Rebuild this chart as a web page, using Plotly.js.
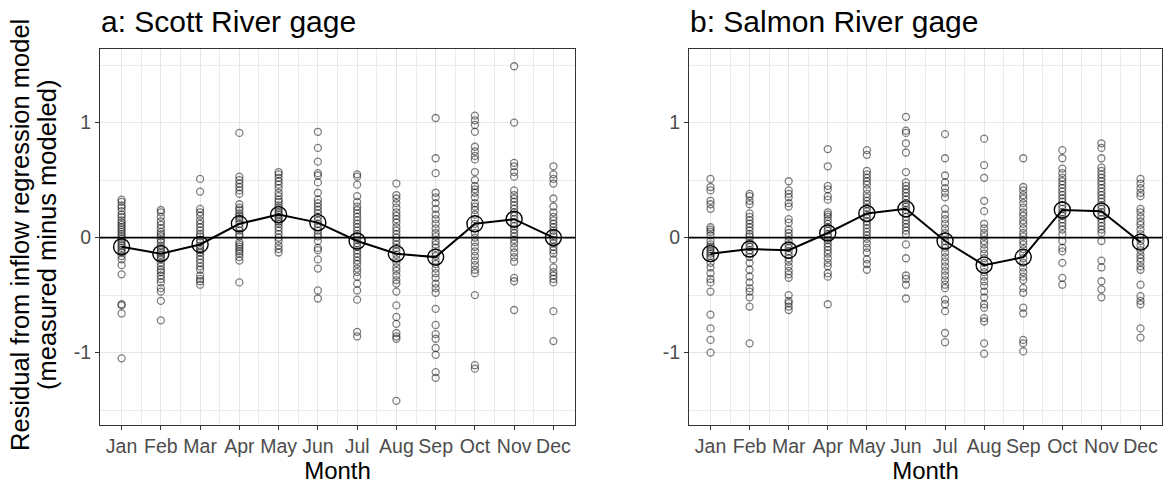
<!DOCTYPE html>
<html>
<head>
<meta charset="utf-8">
<script src="https://cdn.plot.ly/plotly-3.0.1.min.js"></script>
<style>html,body{margin:0;padding:0;background:#fff;}#chart{width:1163px;height:488px;}</style>
</head>
<body>
<div id="chart"></div>
<script>
// ---- Data ----
const months = ["Jan","Feb","Mar","Apr","May","Jun","Jul","Aug","Sep","Oct","Nov","Dec"];
const yTicks = [-1, 0, 1];
const yMinor = [-1.5, -0.5, 0.5, 1.5];

// a: Scott River gage residuals by month
const scottJan = [0.33,0.31,0.28,0.26,0.23,0.20,0.18,0.15,0.13,0.11,0.09,0.07,0.05,0.03,0.01,-0.01,-0.03,-0.05,-0.07,-0.09,-0.11,-0.13,-0.16,-0.19,-0.24,-0.32,-0.58,-0.59,-0.66,-1.05];
const scottFeb = [0.24,0.22,0.18,0.14,0.11,0.08,0.05,0.03,0.01,-0.02,-0.04,-0.07,-0.09,-0.11,-0.13,-0.15,-0.17,-0.19,-0.22,-0.25,-0.28,-0.30,-0.33,-0.36,-0.39,-0.44,-0.47,-0.55,-0.72];
const scottMar = [0.51,0.40,0.25,0.22,0.19,0.15,0.12,0.09,0.06,0.03,0.01,-0.02,-0.04,-0.07,-0.09,-0.11,-0.13,-0.16,-0.19,-0.22,-0.25,-0.28,-0.33,-0.36,-0.38,-0.41];
const scottApr = [0.91,0.53,0.50,0.47,0.44,0.41,0.38,0.29,0.26,0.24,0.21,0.19,0.17,0.15,0.12,0.09,0.06,0.03,0.01,-0.04,-0.06,-0.08,-0.10,-0.12,-0.14,-0.17,-0.20,-0.39];
const scottMay = [0.57,0.55,0.52,0.49,0.46,0.43,0.39,0.36,0.33,0.31,0.28,0.26,0.24,0.22,0.20,0.18,0.16,0.14,0.12,0.09,0.06,0.03,0.00,-0.03,-0.07,-0.10,-0.13];
const scottJun = [0.92,0.78,0.66,0.56,0.54,0.48,0.39,0.33,0.30,0.27,0.24,0.21,0.18,0.15,0.12,0.09,0.06,0.03,0.01,-0.03,-0.09,-0.11,-0.19,-0.27,-0.46,-0.53];
const scottJul = [0.55,0.53,0.46,0.36,0.31,0.27,0.24,0.21,0.18,0.15,0.12,0.09,0.06,0.03,0.01,-0.02,-0.05,-0.08,-0.11,-0.14,-0.17,-0.20,-0.23,-0.27,-0.30,-0.34,-0.40,-0.46,-0.54,-0.82,-0.86];
const scottAug = [0.47,0.37,0.34,0.30,0.26,0.22,0.19,0.16,0.13,0.09,0.06,0.03,0.00,-0.03,-0.06,-0.09,-0.12,-0.15,-0.19,-0.22,-0.26,-0.29,-0.33,-0.37,-0.40,-0.47,-0.59,-0.69,-0.75,-0.83,-0.86,-0.88,-1.42];
const scottSep = [1.04,0.69,0.56,0.39,0.35,0.30,0.25,0.20,0.16,0.12,0.08,0.04,0.01,-0.03,-0.06,-0.09,-0.13,-0.16,-0.20,-0.23,-0.27,-0.31,-0.35,-0.40,-0.44,-0.48,-0.62,-0.76,-0.84,-0.88,-0.96,-1.02,-1.17,-1.22];
const scottOct = [1.06,1.02,0.98,0.92,0.79,0.75,0.71,0.68,0.57,0.50,0.45,0.42,0.39,0.35,0.30,0.27,0.24,0.20,0.16,0.12,0.08,0.04,0.00,-0.04,-0.08,-0.12,-0.16,-0.20,-0.24,-0.28,-0.31,-0.50,-1.11,-1.14];
const scottNov = [1.49,1.00,0.65,0.62,0.57,0.53,0.41,0.37,0.34,0.31,0.28,0.25,0.22,0.19,0.16,0.13,0.10,0.07,0.04,0.01,-0.02,-0.05,-0.09,-0.13,-0.17,-0.21,-0.35,-0.38,-0.63];
const scottDec = [0.62,0.55,0.51,0.47,0.34,0.27,0.22,0.18,0.15,0.12,0.09,0.06,0.03,0.01,-0.02,-0.05,-0.08,-0.11,-0.14,-0.19,-0.26,-0.30,-0.33,-0.36,-0.39,-0.64,-0.90];
const scottMean = [-0.08,-0.14,-0.06,0.12,0.20,0.13,-0.03,-0.14,-0.17,0.12,0.16,0.00];

// b: Salmon River gage residuals by month
const salmonJan = [0.51,0.44,0.41,0.32,0.29,0.25,0.09,0.07,0.05,0.02,-0.03,-0.06,-0.08,-0.10,-0.12,-0.14,-0.16,-0.18,-0.22,-0.26,-0.31,-0.36,-0.39,-0.47,-0.67,-0.79,-0.89,-1.00];
const salmonFeb = [0.38,0.36,0.32,0.29,0.21,0.18,0.15,0.12,0.09,0.06,0.03,0.01,-0.02,-0.05,-0.08,-0.11,-0.14,-0.17,-0.22,-0.28,-0.34,-0.39,-0.44,-0.47,-0.52,-0.60,-0.92];
const salmonMar = [0.49,0.41,0.38,0.35,0.30,0.27,0.16,0.13,0.07,0.04,0.01,-0.03,-0.06,-0.09,-0.12,-0.15,-0.18,-0.21,-0.25,-0.29,-0.32,-0.35,-0.50,-0.55,-0.57,-0.60,-0.63];
const salmonApr = [0.77,0.62,0.45,0.42,0.36,0.33,0.22,0.20,0.18,0.15,0.12,0.09,0.06,0.03,0.01,-0.02,-0.05,-0.08,-0.11,-0.14,-0.18,-0.22,-0.25,-0.31,-0.34,-0.58];
const salmonMay = [0.76,0.72,0.58,0.55,0.52,0.49,0.46,0.42,0.38,0.35,0.32,0.29,0.26,0.23,0.20,0.17,0.14,0.11,0.08,0.05,0.02,-0.01,-0.05,-0.09,-0.13,-0.19,-0.23,-0.28];
const salmonJun = [1.05,0.93,0.91,0.82,0.74,0.57,0.48,0.45,0.42,0.39,0.36,0.33,0.30,0.27,0.24,0.21,0.18,0.15,0.12,0.09,0.06,0.03,-0.06,-0.18,-0.33,-0.36,-0.41,-0.53];
const salmonJul = [0.90,0.69,0.54,0.48,0.43,0.39,0.35,0.25,0.20,0.16,0.12,0.08,0.04,0.01,-0.03,-0.06,-0.09,-0.13,-0.17,-0.21,-0.25,-0.29,-0.33,-0.37,-0.41,-0.44,-0.54,-0.58,-0.64,-0.83,-0.91];
const salmonAug = [0.86,0.63,0.52,0.32,0.23,0.12,0.08,0.04,0.01,-0.03,-0.06,-0.10,-0.14,-0.18,-0.22,-0.26,-0.30,-0.34,-0.38,-0.42,-0.47,-0.52,-0.58,-0.61,-0.70,-0.73,-0.92,-1.01];
const salmonSep = [0.69,0.44,0.41,0.37,0.34,0.30,0.26,0.22,0.19,0.15,0.12,0.08,0.04,0.01,-0.03,-0.06,-0.10,-0.14,-0.18,-0.22,-0.26,-0.30,-0.34,-0.37,-0.44,-0.48,-0.61,-0.66,-0.89,-0.92,-0.99];
const salmonOct = [0.76,0.69,0.60,0.56,0.52,0.49,0.46,0.43,0.40,0.37,0.34,0.31,0.28,0.25,0.22,0.19,0.16,0.13,0.10,0.07,0.03,-0.03,-0.09,-0.12,-0.22,-0.35,-0.41];
const salmonNov = [0.82,0.78,0.69,0.61,0.58,0.55,0.52,0.49,0.46,0.43,0.40,0.37,0.34,0.31,0.28,0.25,0.22,0.19,0.16,0.13,0.10,0.07,0.04,-0.03,-0.20,-0.26,-0.38,-0.45,-0.52];
const salmonDec = [0.51,0.47,0.43,0.39,0.36,0.25,0.22,0.18,0.14,0.11,0.07,0.03,0.00,-0.03,-0.07,-0.11,-0.15,-0.18,-0.21,-0.25,-0.28,-0.41,-0.51,-0.55,-0.58,-0.79,-0.87];
const salmonMean = [-0.14,-0.10,-0.11,0.04,0.21,0.25,-0.03,-0.24,-0.17,0.24,0.23,-0.04];

const scottByMonth = [scottJan,scottFeb,scottMar,scottApr,scottMay,scottJun,scottJul,scottAug,scottSep,scottOct,scottNov,scottDec];
const salmonByMonth = [salmonJan,salmonFeb,salmonMar,salmonApr,salmonMay,salmonJun,salmonJul,salmonAug,salmonSep,salmonOct,salmonNov,salmonDec];

// ---- Build traces ----
const monthNum = months.map((m, i) => i + 1);
function pointsTrace(byMonth, xa, ya) {
  const x = [], y = [];
  byMonth.forEach((vals, i) => vals.forEach(v => { x.push(monthNum[i]); y.push(v); }));
  return {
    type: 'scatter', mode: 'markers', x: x, y: y, xaxis: xa, yaxis: ya,
    marker: { symbol: 'circle-open', size: 7, color: 'rgba(0,0,0,0.5)', line: { width: 1.3, color: 'rgba(0,0,0,0.5)' } },
    showlegend: false, hoverinfo: 'x+y'
  };
}
function meanTrace(means, xa, ya) {
  return {
    type: 'scatter', mode: 'lines+markers', x: monthNum, y: means, xaxis: xa, yaxis: ya,
    line: { color: '#000', width: 2 },
    marker: { symbol: 'circle-open', size: 16, color: '#000', line: { width: 1.4, color: '#000' } },
    showlegend: false
  };
}
function zeroTrace(xa, ya) {
  // horizontal reference line at residual = 0 spanning the axis range
  return {
    type: 'scatter', mode: 'lines', x: [0.45, 12.55], y: [0, 0], xaxis: xa, yaxis: ya,
    line: { color: '#000', width: 1.8 }, showlegend: false, hoverinfo: 'skip'
  };
}

const data = [
  zeroTrace('x', 'y'),
  pointsTrace(scottByMonth, 'x', 'y'),
  meanTrace(scottMean, 'x', 'y'),
  zeroTrace('x2', 'y2'),
  pointsTrace(salmonByMonth, 'x2', 'y2'),
  meanTrace(salmonMean, 'x2', 'y2')
];

const W = 1163, H = 488;
const fontFam = 'Liberation Sans, Arial, sans-serif';
const minorX = monthNum.slice(0, -1).map(m => m + 0.5);

function xAxis(domain) {
  return {
    domain: domain, range: [0.45, 12.55], tickmode: 'array', tickvals: monthNum, ticktext: months,
    ticks: 'outside', ticklen: 4, tickwidth: 1, tickcolor: '#333',
    tickfont: { family: fontFam, size: 19.5, color: '#4d4d4d' },
    showline: true, mirror: true, linecolor: '#333', linewidth: 1,
    showgrid: true, gridcolor: '#e6e6e6', gridwidth: 1, zeroline: false,
    minor: { tickmode: 'array', tickvals: minorX, showgrid: true, gridcolor: '#ebebeb', gridwidth: 1, ticks: '' },
    title: { text: 'Month', font: { family: fontFam, size: 24, color: '#000' }, standoff: 4 },
    fixedrange: true
  };
}
function yAxis(domain, anchor) {
  return {
    domain: domain, anchor: anchor, range: [-1.63, 1.64], tickmode: 'array', tickvals: yTicks,
    ticktext: yTicks.map(String),
    ticks: 'outside', ticklen: 4, tickwidth: 1, tickcolor: '#333',
    tickfont: { family: fontFam, size: 19.5, color: '#4d4d4d' },
    showline: true, mirror: true, linecolor: '#333', linewidth: 1,
    showgrid: true, gridcolor: '#e6e6e6', gridwidth: 1, zeroline: false,
    minor: { tickmode: 'array', tickvals: yMinor, showgrid: true, gridcolor: '#ebebeb', gridwidth: 1, ticks: '' },
    fixedrange: true
  };
}

const yDom = [(H - 425) / H, (H - 49) / H];
const layout = {
  width: W, height: H,
  margin: { l: 0, r: 0, t: 0, b: 0 },
  paper_bgcolor: '#fff', plot_bgcolor: '#fff',
  font: { family: fontFam },
  xaxis: Object.assign(xAxis([100 / W, 575 / W]), { anchor: 'y' }),
  yaxis: yAxis(yDom, 'x'),
  xaxis2: Object.assign(xAxis([689 / W, 1162 / W]), { anchor: 'y2' }),
  yaxis2: yAxis(yDom, 'x2'),
  annotations: [
    { text: 'a: Scott River gage', xref: 'paper', yref: 'paper', x: 99 / W, y: (H - 22) / H, xanchor: 'left', yanchor: 'middle', showarrow: false, font: { family: fontFam, size: 30, color: '#000' } },
    { text: 'b: Salmon River gage', xref: 'paper', yref: 'paper', x: 688 / W, y: (H - 22) / H, xanchor: 'left', yanchor: 'middle', showarrow: false, font: { family: fontFam, size: 30, color: '#000' } },
    { text: 'Residual from inflow regression model', xref: 'paper', yref: 'paper', x: 20 / W, y: (H - 235) / H, xanchor: 'center', yanchor: 'middle', textangle: -90, showarrow: false, font: { family: fontFam, size: 25.5, color: '#000' } },
    { text: '(measured minus modeled)', xref: 'paper', yref: 'paper', x: 47 / W, y: (H - 235) / H, xanchor: 'center', yanchor: 'middle', textangle: -90, showarrow: false, font: { family: fontFam, size: 25.5, color: '#000' } }
  ]
};

Plotly.newPlot('chart', data, layout, { displayModeBar: false, staticPlot: true });
</script>
</body>
</html>
